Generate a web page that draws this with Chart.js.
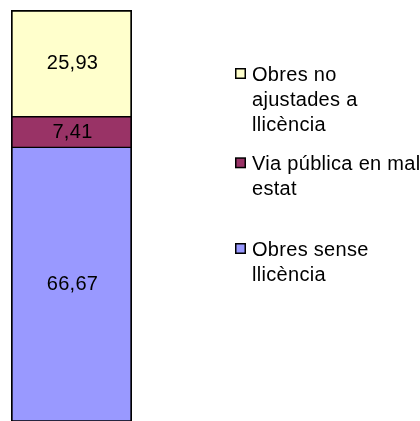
<!DOCTYPE html>
<html>
<head>
<meta charset="utf-8">
<script src="https://cdn.jsdelivr.net/npm/chart.js@4/dist/chart.umd.min.js"></script>
<style>
html,body{margin:0;padding:0;background:#fff;}
#wrap{width:420px;height:421px;overflow:hidden;position:relative;}
canvas{display:block;}
</style>
</head>
<body>
<div id="wrap"><canvas id="c" width="420" height="432"></canvas></div>
<script>
// ---- data ----
const categories = [''];
const seriesNames = ['Obres sense llicència', 'Via pública en mal estat', 'Obres no ajustades a llicència'];
const obresSenseLlicencia = [66.67];
const viaPublicaMalEstat = [7.41];
const obresNoAjustades = [25.93];
const legendLines = [
  ['Obres sense', 'llicència'],
  ['Via pública en mal', 'estat'],
  ['Obres no', 'ajustades a', 'llicència']
];
const colors = ['#9999FF', '#993366', '#FFFFCC'];

const FONT = '20px "Liberation Sans", Arial, sans-serif';

const labelPlugin = {
  id: 'segLabels',
  afterDatasetsDraw(chart) {
    const ctx = chart.ctx;
    ctx.save();
    ctx.font = FONT;
    ctx.fillStyle = '#000';
    ctx.textAlign = 'center';
    ctx.textBaseline = 'middle';
    try { ctx.letterSpacing = '0.3px'; } catch (e) {}
    chart.data.datasets.forEach((ds, i) => {
      const meta = chart.getDatasetMeta(i);
      meta.data.forEach((el, j) => {
        const v = ds.data[j];
        const cy = (el.y + el.base) / 2;
        ctx.fillText(v.toFixed(2).replace('.', ','), el.x + 1, cy);
      });
    });
    ctx.restore();
  }
};

const legendPlugin = {
  id: 'customLegend',
  afterDraw(chart) {
    const ctx = chart.ctx;
    ctx.save();
    ctx.font = FONT;
    ctx.fillStyle = '#000';
    ctx.textAlign = 'left';
    ctx.textBaseline = 'alphabetic';
    try { ctx.letterSpacing = '0.3px'; } catch (e) {}
    const firstBaselines = [81, 170.3, 256];
    const order = [2, 1, 0];
    order.forEach((di, k) => {
      const ds = chart.data.datasets[di];
      const base = firstBaselines[k];
      ctx.fillStyle = '#000';
      ctx.fillRect(235, base - 13, 11, 11);
      ctx.fillStyle = ds.backgroundColor;
      ctx.fillRect(236.5, base - 11.5, 8, 8);
      ctx.fillStyle = '#000';
      legendLines[di].forEach((line, li) => {
        ctx.fillText(line, 252, base + li * 25);
      });
    });
    ctx.restore();
  }
};

const mk = (label, data, color, bw) => ({
  label, data, backgroundColor: color, borderColor: '#000',
  borderWidth: bw, borderSkipped: false,
  barPercentage: 1, categoryPercentage: 1
});

new Chart(document.getElementById('c'), {
  type: 'bar',
  data: {
    labels: categories,
    datasets: [
      mk(seriesNames[0], obresSenseLlicencia, colors[0], {top: 1, bottom: 2, left: 2, right: 2}),
      mk(seriesNames[1], viaPublicaMalEstat, colors[1], {top: 1, bottom: 1, left: 2, right: 2}),
      mk(seriesNames[2], obresNoAjustades, colors[2], {top: 2, bottom: 1, left: 2, right: 2})
    ]
  },
  options: {
    responsive: false,
    animation: false,
    layout: { padding: { left: 11, right: 288, top: 10, bottom: 10 } },
    scales: {
      x: { stacked: true, display: false },
      y: { stacked: true, display: false, min: 0, max: 100 }
    },
    plugins: { legend: { display: false }, tooltip: { enabled: false } }
  },
  plugins: [labelPlugin, legendPlugin]
});
</script>
</body>
</html>
